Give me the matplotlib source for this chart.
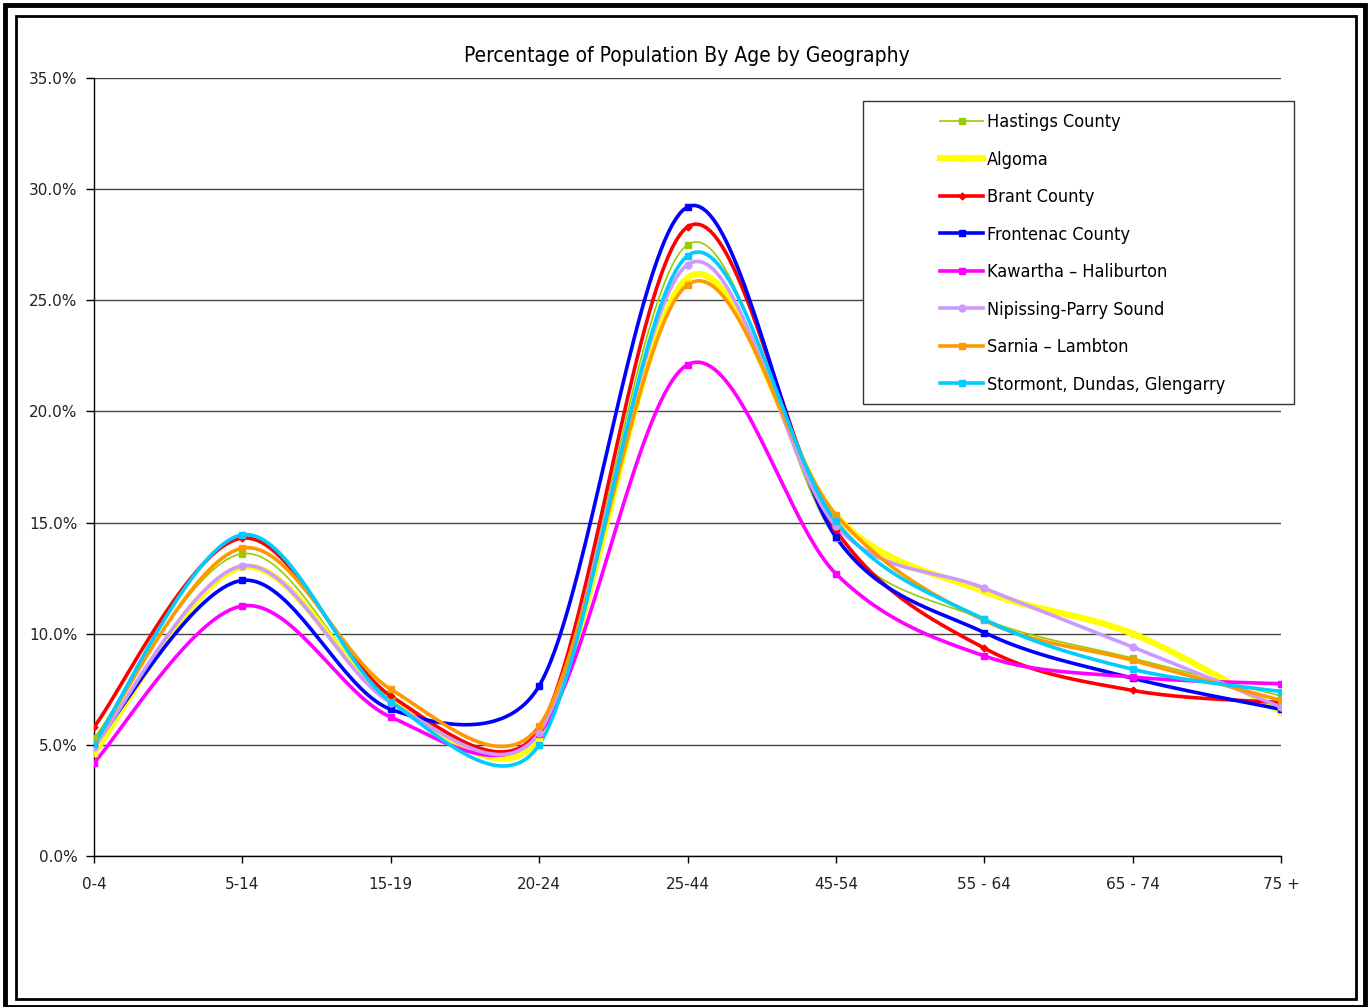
import numpy as np
import matplotlib
matplotlib.use("Agg")
import matplotlib.pyplot as plt
import matplotlib.patches as mpatches
from matplotlib.ticker import PercentFormatter

plt.rcParams['font.family'] = ['DejaVu Sans']

# data (percent)
age_groups = ['0-4', '5-14', '15-19', '20-24', '25-44', '45-54', '55 - 64', '65 - 74', '75 +']
hastings  = [5.3, 13.6, 7.0, 5.4, 27.5, 14.3, 10.65, 8.9, 7.2]
algoma    = [4.65, 13.0, 7.0, 5.3, 26.0, 15.3, 11.9, 10.0, 6.5]
brant     = [5.8, 14.3, 7.2, 5.7, 28.3, 14.65, 9.35, 7.45, 6.9]
frontenac = [5.0, 12.4, 6.6, 7.65, 29.2, 14.35, 10.05, 8.0, 6.6]
kawartha  = [4.2, 11.25, 6.25, 5.5, 22.1, 12.7, 9.0, 8.05, 7.75]
nipissing = [4.9, 13.05, 6.9, 5.55, 26.6, 14.85, 12.05, 9.4, 6.7]
sarnia    = [5.1, 13.85, 7.5, 5.85, 25.7, 15.35, 10.6, 8.8, 7.0]
stormont  = [5.05, 14.45, 6.95, 5.0, 27.0, 15.05, 10.65, 8.4, 7.4]

series_names = ['Hastings County', 'Algoma', 'Brant County', 'Frontenac County',
                'Kawartha \u2013 Haliburton', 'Nipissing-Parry Sound',
                'Sarnia \u2013 Lambton', 'Stormont, Dundas, Glengarry']
series_vals = [hastings, algoma, brant, frontenac, kawartha, nipissing, sarnia, stormont]
colors = ['#99CC00', '#FFFF00', '#FF0000', '#0000FF', '#FF00FF', '#CC99FF', '#FF9900', '#00CCFF']
markers = ['s', 's', 'D', 's', 's', 'o', 's', 's']
msizes = [5, 5, 3.5, 5, 5, 5, 5, 5]
widths = [1.2, 4.5, 2.6, 2.6, 2.6, 2.6, 2.6, 2.6]


def smooth(ax, x, y, n=40, k=0.42):
    # excel-ish smoothed line, built in screen space: bezier with arms of
    # |tangent|/6, capped to a share of the segment length
    pts = ax.transData.transform(np.column_stack([x, y]))
    m = len(pts)
    t = np.linspace(0, 1, n)[:, None]
    out = []
    for i in range(m - 1):
        p0, p3 = pts[i], pts[i + 1]
        seg = np.hypot(*(p3 - p0))
        ta = pts[i + 1] - pts[max(i - 1, 0)]
        tb = pts[min(i + 2, m - 1)] - pts[i]
        la = min(np.hypot(*ta) / 6, k * seg)
        lb = min(np.hypot(*tb) / 6, k * seg)
        c1 = p0 + ta / max(np.hypot(*ta), 1e-9) * la
        c2 = p3 - tb / max(np.hypot(*tb), 1e-9) * lb
        b = (1 - t) ** 3 * p0 + 3 * (1 - t) ** 2 * t * c1 + 3 * (1 - t) * t ** 2 * c2 + t ** 3 * p3
        out.append(b)
    out = ax.transData.inverted().transform(np.vstack(out))
    return out[:, 0], out[:, 1]


fig = plt.figure(figsize=(13.7, 10.07), dpi=100)
ax = fig.add_axes([94 / 1370, 1 - 856 / 1007, (1281 - 94) / 1370, (856 - 78) / 1007])

xpos = np.arange(len(age_groups))
ax.set_xlim(0, len(age_groups) - 1)
ax.set_ylim(0, 35)

handles = []
for name, vals, c, m, ms, lw in zip(series_names, series_vals, colors, markers, msizes, widths):
    sx, sy = smooth(ax, xpos, vals)
    ax.plot(sx, sy, color=c, lw=lw, solid_capstyle='round', zorder=3)
    ax.plot(xpos, vals, ls='none', marker=m, ms=ms, color=c, zorder=4)
    h, = ax.plot([], [], color=c, lw=lw, marker=m, ms=ms, label=name)
    handles.append(h)

ax.set_yticks(np.arange(0, 36, 5))
ax.yaxis.set_major_formatter(PercentFormatter(decimals=1))
ax.set_xticks(xpos)
ax.set_xticklabels(age_groups)
ax.tick_params(axis='y', direction='out', length=6, width=1, pad=6, labelsize=11, labelcolor='#222222')
ax.tick_params(axis='x', direction='out', length=5, width=1, pad=10, labelsize=11, labelcolor='#222222')
ax.grid(axis='y', color='#444444', lw=1)
ax.set_axisbelow(True)
for s in ['top', 'right']:
    ax.spines[s].set_visible(False)
ax.spines['left'].set_linewidth(1)
ax.spines['bottom'].set_linewidth(1)

fig.text(687 / 1370, 1 - 56 / 1007, 'Percentage of Population By Age by Geography',
         ha='center', va='center', fontsize=15, fontstretch='condensed')

# legend box + entries
fig.patches.append(mpatches.Rectangle((863 / 1370, 1 - 404 / 1007), (1294 - 863) / 1370,
                                      (404 - 101) / 1007, transform=fig.transFigure,
                                      fill=True, facecolor='white', edgecolor='#333333',
                                      lw=1, zorder=5))
leg = fig.legend(handles=handles, loc='upper left', bbox_to_anchor=(931 / 1370, 1 - 104 / 1007),
                 frameon=False, handlelength=2.4, handletextpad=0.22,
                 labelspacing=1.08, borderpad=0,
                 prop={'size': 13, 'stretch': 'condensed'})
leg.set_zorder(6)

# double frame around the whole picture
fig.patches.append(mpatches.Rectangle((5 / 1370, 0), 1360 / 1370, 1002 / 1007,
                                      transform=fig.transFigure, fill=False,
                                      edgecolor='black', lw=3.5))
fig.patches.append(mpatches.Rectangle((16 / 1370, 8 / 1007), 1340 / 1370, 983 / 1007,
                                      transform=fig.transFigure, fill=False,
                                      edgecolor='black', lw=2))

fig.savefig('out.png', dpi=100)
